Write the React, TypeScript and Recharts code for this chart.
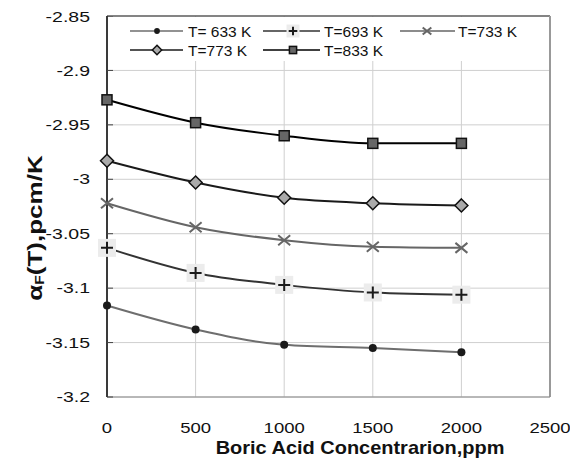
import * as React from 'react';
import { LineChart, Line, XAxis, YAxis, CartesianGrid, ReferenceLine } from 'recharts';

const conc = [0, 500, 1000, 1500, 2000];
const t633 = [-3.116, -3.138, -3.152, -3.155, -3.159];
const t693 = [-3.063, -3.086, -3.097, -3.104, -3.106];
const t733 = [-3.022, -3.044, -3.056, -3.062, -3.063];
const t773 = [-2.983, -3.003, -3.017, -3.022, -3.024];
const t833 = [-2.927, -2.948, -2.96, -2.967, -2.967];

const xTicks = [0, 500, 1000, 1500, 2000, 2500];
const yTicks = [-3.2, -3.15, -3.1, -3.05, -3, -2.95, -2.9, -2.85];

const seriesNames = ['T= 633 K', 'T=693 K', 'T=733 K', 'T=773 K', 'T=833 K'];

const data = conc.map((c, i) => ({
  c,
  t633: t633[i],
  t693: t693[i],
  t733: t733[i],
  t773: t773[i],
  t833: t833[i],
}));

const FONT = '"Liberation Sans", Arial, sans-serif';
const STRETCH = 1.3; // the source text is drawn wider than normal

// marker shapes, drawn around (cx, cy); k scales the size
const marker = (kind: string, cx: number, cy: number, k = 1, key?: string) => {
  if (kind === 'circle') return <circle key={key} cx={cx} cy={cy} r={4 * k} fill="#1a1a1a" />;
  if (kind === 'plus') {
    const b = 9 * k, a = 6 * k;
    return (
      <g key={key}>
        <rect x={cx - b} y={cy - b} width={2 * b} height={2 * b} fill="#ececec" />
        <path d={`M${cx - a},${cy}H${cx + a}M${cx},${cy - a}V${cy + a}`} stroke="#1a1a1a" strokeWidth={2} />
      </g>
    );
  }
  if (kind === 'cross') {
    const a = 6 * k, b = 5 * k;
    return (
      <path key={key} d={`M${cx - a},${cy - b}L${cx + a},${cy + b}M${cx - a},${cy + b}L${cx + a},${cy - b}`} stroke="#666" strokeWidth={2} fill="none" />
    );
  }
  if (kind === 'diamond') {
    const a = 6.5 * k;
    return (
      <path key={key} d={`M${cx},${cy - a}L${cx + a},${cy}L${cx},${cy + a}L${cx - a},${cy}Z`} fill="#aaa" stroke="#111" strokeWidth={1.5} />
    );
  }
  const a = 5 * k;
  return <rect key={key} x={cx - a} y={cy - a} width={2 * a} height={2 * a} fill="#666" stroke="#111" strokeWidth={1.5} />;
};

const dotFor = (kind: string) => (p: any) => marker(kind, p.cx, p.cy, 1, `${kind}-${p.index}`);

const series = [
  { key: 't633', color: '#6e6e6e', kind: 'circle' },
  { key: 't693', color: '#333', kind: 'plus' },
  { key: 't733', color: '#666', kind: 'cross' },
  { key: 't773', color: '#1a1a1a', kind: 'diamond' },
  { key: 't833', color: '#000', kind: 'square' },
];

const legendPos = [
  { row: 14, x0: 22, x1: 75, m: 49, t: 80 },
  { row: 14, x0: 155, x1: 212, m: 185, t: 216 },
  { row: 14, x0: 292, x1: 347, m: 319, t: 350 },
  { row: 33, x0: 22, x1: 75, m: 49, t: 80 },
  { row: 33, x0: 155, x1: 212, m: 185, t: 216 },
];

const fmt = (v: number) => String(Number(v.toFixed(2)));

const YTick = (p: any) => {
  const ax = p.x + 17;
  return (
    <g>
      <line x1={ax} x2={ax + 6} y1={p.y} y2={p.y} stroke="#444" />
      <g transform={`translate(${p.x},${p.y}) scale(${STRETCH},1)`}>
        <text x={0} y={0} textAnchor="end" dominantBaseline="central" fontSize={15} fill="#111" fontFamily={FONT}>
          {fmt(p.payload.value)}
        </text>
      </g>
    </g>
  );
};

const XTick = (p: any) => (
  <g transform={`translate(${p.x},${p.y + 11}) scale(${STRETCH * 0.95},1)`}>
    <text x={0} y={0} textAnchor="middle" dominantBaseline="central" fontSize={15} fill="#111" fontFamily={FONT}>
      {p.payload.value}
    </text>
  </g>
);

export default function App() {
  return (
    <div style={{ position: 'relative', width: 570, height: 460, fontFamily: FONT }}>
      <LineChart width={570} height={460} data={data} margin={{ top: 8, right: 28, left: 0, bottom: 0 }}>
        <CartesianGrid stroke="#cfcfcf" strokeWidth={1} />
        <XAxis
          type="number"
          dataKey="c"
          domain={[0, 2500]}
          ticks={xTicks}
          height={71}
          tickSize={0}
          tickMargin={20}
          axisLine={{ stroke: '#888' }}
          tick={<XTick />}
          label={{
            content: () => (
              <g transform="translate(352,440) scale(1.11,1)">
                <text x={0} y={0} textAnchor="middle" dominantBaseline="central" fontSize={18} fontWeight="bold" fill="#111" fontFamily={FONT}>
                  Boric Acid Concentrarion,ppm
                </text>
              </g>
            ),
          }}
        />
        <YAxis
          type="number"
          domain={[-3.2, -2.85]}
          ticks={yTicks}
          width={99}
          tickSize={0}
          tickMargin={17}
          axisLine={{ stroke: '#000', strokeWidth: 1.5 }}
          tick={<YTick />}
          label={{
            content: () => (
              <g transform="translate(27,220) rotate(-90) scale(1.3,1)">
                <text x={0} y={0} textAnchor="middle" dominantBaseline="central" fontSize={20} fontWeight="bold" fill="#111" fontFamily={FONT}>
                  α<tspan fontSize={12} dy={5}>F</tspan>
                  <tspan dy={-5}>(T),pcm/K</tspan>
                </text>
              </g>
            ),
          }}
        />
        <ReferenceLine y={-2.85} stroke="#222" strokeWidth={1.2} />
        <ReferenceLine x={2500} stroke="#999" strokeWidth={2} />
        {series.map((s) => (
          <Line
            key={s.key}
            type="monotone"
            dataKey={s.key}
            stroke={s.color}
            strokeWidth={2}
            dot={dotFor(s.kind)}
            activeDot={false}
            isAnimationActive={false}
          />
        ))}
      </LineChart>
      <div style={{ position: 'absolute', left: 100, top: 9, width: 441, height: 44, background: '#fff' }}>
        <svg width={441} height={44}>
          {series.map((s, i) => {
            const lp = legendPos[i];
            return (
              <g key={s.key}>
                <line x1={lp.x0} x2={lp.x1} y1={lp.row} y2={lp.row} stroke={s.color} strokeWidth={1.6} />
                {marker(s.kind, lp.m, lp.row, 0.72)}
                <text x={lp.t} y={lp.row} dominantBaseline="central" fontSize={15.5} fill="#111" fontFamily={FONT}>
                  {seriesNames[i]}
                </text>
              </g>
            );
          })}
        </svg>
      </div>
    </div>
  );
}
